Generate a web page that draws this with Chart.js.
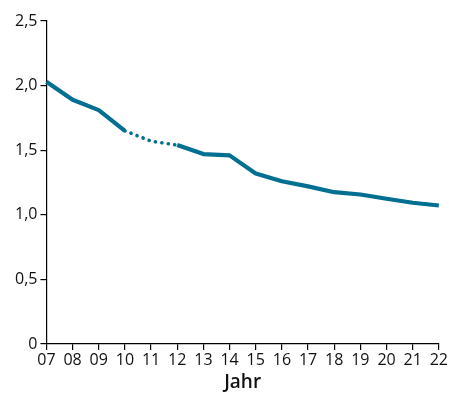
<!DOCTYPE html>
<html>
<head>
<meta charset="utf-8">
<script src="https://cdn.jsdelivr.net/npm/chart.js@4/dist/chart.umd.min.js"></script>
<style>
	html, body { margin: 0; padding: 0; background: #fff; }
	#wrap { width: 449px; height: 394px; }
</style>
</head>
<body>
<div id="wrap"><canvas id="myChart"></canvas></div>
<script>
const years = ["07", "08", "09", "10", "11", "12", "13", "14", "15", "16", "17", "18", "19", "20", "21", "22"];
const values = [2.03, 1.89, 1.81, 1.65, 1.57, 1.54, 1.47, 1.46, 1.32, 1.26, 1.22, 1.175, 1.157, 1.124, 1.093, 1.072];
// segment 10 -> 12 is drawn dotted
const dottedFrom = 3;
const dottedTo = 5;
const yTicks = [0, 0.5, 1, 1.5, 2, 2.5];

document.addEventListener("DOMContentLoaded", () => {
	let ctx = document.getElementById("myChart").getContext("2d");
	let lineColor = "#006f91";
	let dotted = (c) => c.p0DataIndex >= dottedFrom && c.p1DataIndex <= dottedTo;

	new Chart(ctx, {
		type: "line",
		data: {
			labels: years,
			datasets: [
				{
					data: values,
					borderColor: lineColor,
					borderWidth: 4.2,
					pointRadius: 0,
					tension: 0,
					borderJoinStyle: "round",
					segment: {
						borderDash: (c) => (dotted(c) ? [0.1, 6.4] : undefined),
						borderCapStyle: (c) => (dotted(c) ? "round" : "butt"),
						borderWidth: (c) => (dotted(c) ? 3.6 : 4.2),
					},
				},
			],
		},
		options: {
			responsive: true,
			maintainAspectRatio: false,
			animation: false,
			layout: { padding: { left: 12, right: 10, top: 21, bottom: 0 } },
			plugins: {
				legend: { display: false },
				tooltip: { enabled: false },
			},
			scales: {
				x: {
					offset: false,
					grid: { drawOnChartArea: false, color: "#000", tickLength: 6, lineWidth: 1.2 },
					border: { color: "#000", width: 1.2 },
					ticks: {
						color: "#111",
						padding: 1,
						maxRotation: 0,
						autoSkip: false,
						font: { family: "Open Sans", size: 16 },
					},
					title: {
						display: true,
						text: "Jahr",
						color: "#111",
						padding: { top: 0, bottom: 0 },
						font: { family: "Open Sans", size: 19, weight: 600 },
					},
				},
				y: {
					min: 0,
					max: 2.5,
					afterBuildTicks: (axis) => {
						axis.ticks = yTicks.map((v) => ({ value: v }));
					},
					grid: { drawOnChartArea: false, color: "#000", tickLength: 6, lineWidth: 1.2 },
					border: { color: "#000", width: 1.2 },
					ticks: {
						color: "#111",
						padding: 3,
						font: { family: "Open Sans", size: 16 },
						callback: (v) => (v === 0 ? "0" : v.toFixed(1).replace(".", ",")),
					},
				},
			},
		},
	});
});
</script>
</body>
</html>
